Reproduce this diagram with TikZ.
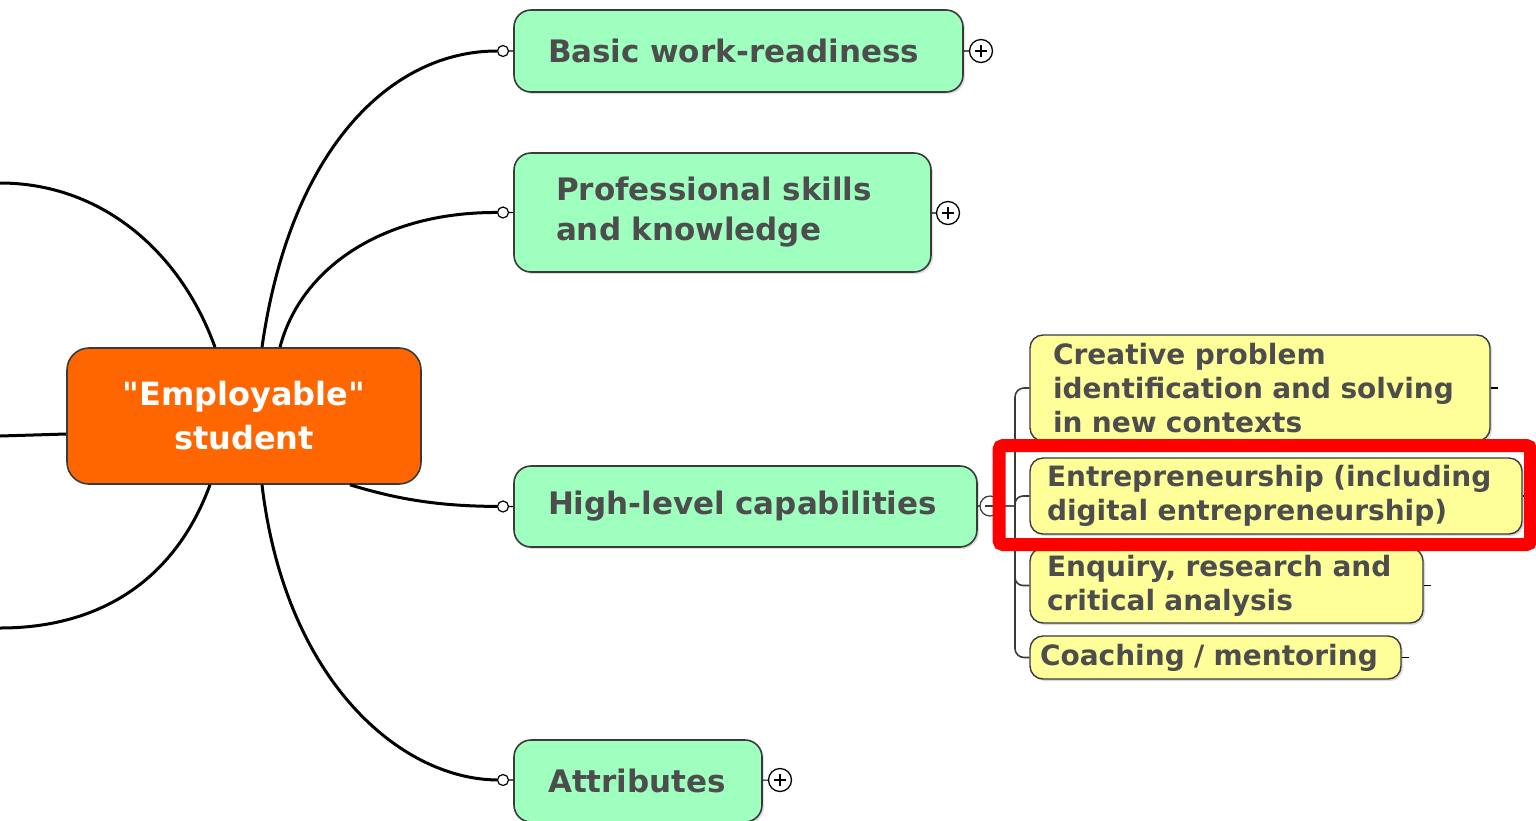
\documentclass[tikz,border=0pt]{standalone}
\usepackage{fontspec}
\setmainfont{DejaVu Sans}
\usetikzlibrary{shadows}
\definecolor{mint}{HTML}{9FFFBF}
\definecolor{lemon}{HTML}{FFFF99}
\definecolor{pumpkin}{HTML}{FF6600}
\definecolor{ink}{HTML}{4D4D4D}
\definecolor{rim}{HTML}{3A3A3A}
\definecolor{marker}{HTML}{FF0000}

\begin{document}
\begin{tikzpicture}[x=1pt,y=-1pt,
    hub/.style={draw=rim, line width=1.6pt, rounded corners=22pt, fill=pumpkin, text=white,
      font=\bfseries\fontsize{32}{44}\selectfont, align=center, minimum width=354pt, minimum height=136pt},
    topic/.style={draw=rim, line width=1.6pt, rounded corners=17pt, fill=mint, text=ink,
      font=\bfseries\fontsize{31}{40}\selectfont, align=left, inner xsep=34pt,
      drop shadow={shadow xshift=2pt, shadow yshift=-2pt, opacity=.25}},
    sub/.style={draw=rim, line width=1.4pt, rounded corners=13pt, fill=lemon, text=ink,
      font=\bfseries\fontsize{28}{34}\selectfont, align=left, inner ysep=1pt,
      drop shadow={shadow xshift=2pt, shadow yshift=-2pt, opacity=.3},
      append after command={(\tikzlastnode.east) edge[line width=1.2pt] +(7pt,0pt)}},
    knob/.style={circle, draw=black, fill=white, line width=1.2pt, minimum size=11pt, inner sep=0pt},
    expander/.style={circle, draw=black, fill=white, line width=1.3pt, minimum size=23pt, inner sep=0pt,
      path picture={\draw[line width=1.3pt]
        ([xshift=-6pt]path picture bounding box.center) -- ([xshift=6pt]path picture bounding box.center)
        ([yshift=-6pt]path picture bounding box.center) -- ([yshift=6pt]path picture bounding box.center);}},
    collapser/.style={circle, draw=rim, fill=white, line width=1.2pt, minimum size=20pt, inner sep=0pt,
      path picture={\draw[line width=1.2pt]
        ([xshift=-5pt]path picture bounding box.center) -- ([xshift=5pt]path picture bounding box.center);}},
    branch/.style={line width=3pt, black},
    bracket/.style={line width=1.6pt, rim},
    highlight/.style={draw=marker, line width=13pt, rounded corners=4pt}]
  \useasboundingbox (0,0) rectangle (1536,820);

  % central topic and main branches
  \node[hub] (emp) at (244,416) {\textquotedbl Employable\textquotedbl\\student};

  \node[topic, text width=381pt, minimum height=82pt] (basic) at (738.5,51) {Basic work-readiness};
  \node[topic, text width=333pt, inner xsep=42pt, minimum height=119pt] (prof) at (722.5,212.5) {Professional skills\\and knowledge};
  \node[topic, text width=395pt, minimum height=81pt] (high) at (745.5,506.5) {High-level capabilities};
  \node[topic, text width=180pt, minimum height=82pt] (attr) at (638,781) {Attributes};

  \node[knob] (kbasic) at (503,51) {};
  \node[knob] (kprof) at (503,212.5) {};
  \node[knob] (khigh) at (503,506.5) {};
  \node[knob] (kattr) at (503,780) {};
  \draw[line width=1.2pt] (kbasic) -- (basic) (kprof) -- (prof) (khigh) -- (high) (kattr) -- (attr);

  \node[expander] (xbasic) at (981,51) {};
  \node[expander] (xprof) at (948,213) {};
  \node[expander] (xattr) at (780,780) {};
  \draw[line width=1.2pt] (basic) -- (xbasic) (prof) -- (xprof) (attr) -- (xattr);

  \coordinate (offtop) at (0,183);
  \coordinate (offmid) at (0,436);
  \coordinate (offbot) at (0,628);

  \draw[branch] ([xshift=18pt]emp.north) .. controls (290,150) and (390,51) .. (kbasic);
  \draw[branch] ([xshift=36pt]emp.north) .. controls (300,270) and (380,212) .. (kprof);
  \draw[branch] ([xshift=106pt]emp.south) .. controls (400,500) and (440,506) .. (khigh);
  \draw[branch] ([xshift=18pt]emp.south) .. controls (285,680) and (400,779) .. (kattr);
  \draw[branch] ([xshift=-29pt]emp.north) .. controls (180,250) and (100,183) .. (offtop);
  \draw[branch] ([yshift=-18pt]emp.west) -- (offmid);
  \draw[branch] ([xshift=-34pt]emp.south) .. controls (175,580) and (100,628) .. (offbot);

  % sub topics of high-level capabilities
  \node[sub, text width=414pt, inner xsep=23pt, minimum height=106pt] (cre) at (1260,388) {Creative problem\\identification and solving\\in new contexts};
  \node[sub, text width=458pt, inner xsep=17pt, minimum height=76pt] (ent) at (1276,496) {Entrepreneurship (including\\digital entrepreneurship)};
  \node[sub, text width=359pt, inner xsep=17pt, minimum height=75pt] (enq) at (1226.5,585.5) {Enquiry, research and\\critical analysis};
  \node[sub, text width=351pt, inner xsep=10pt, minimum height=43pt] (coa) at (1215.5,657.5) {Coaching / mentoring};

  \coordinate (spine) at (1015,506);
  \draw[line width=1.2pt] (high) -- (spine);
  \node[collapser] (chigh) at (990,506) {};
  \draw[bracket, rounded corners=9pt] (cre.west) -| (spine) |- (coa.west);
  \draw[bracket, rounded corners=8pt] (spine |- ent.west) ++(0,12) |- (ent.west);
  \draw[bracket, rounded corners=8pt] (spine |- enq.west) ++(0,-12) |- (enq.west);

  \draw[highlight] (999,445.5) rectangle (1530.5,544.5);
\end{tikzpicture}
\end{document}
